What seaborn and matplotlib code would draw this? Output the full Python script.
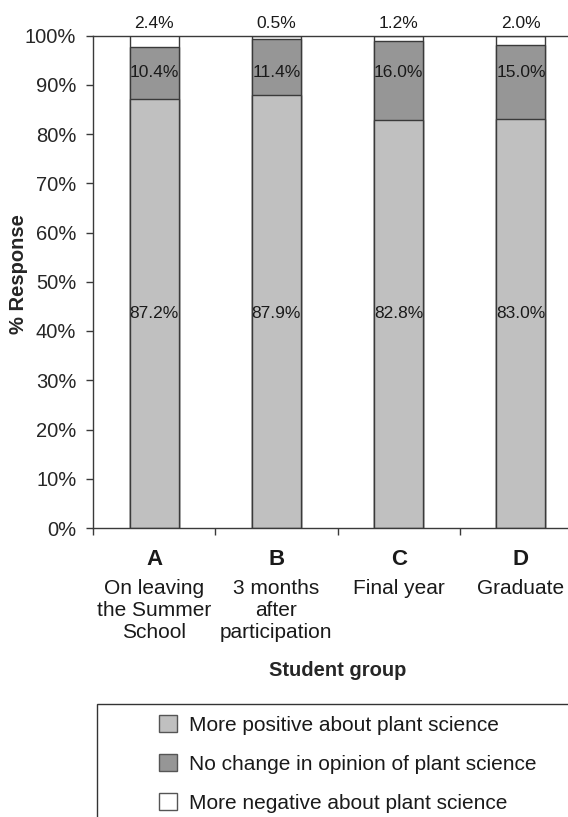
import pandas as pd
import matplotlib
matplotlib.use("Agg")
import matplotlib.pyplot as plt
from matplotlib.patches import Patch, Rectangle
import seaborn as sns

# values
groups = ["A", "B", "C", "D"]
descriptions = ["On leaving\nthe Summer\nSchool", "3 months\nafter\nparticipation",
                "Final year", "Graduate"]
more_positive = [87.2, 87.9, 82.8, 83.0]
no_change = [10.4, 11.4, 16.0, 15.0]
more_negative = [2.4, 0.5, 1.2, 2.0]
series_names = ["More positive about plant science",
                "No change in opinion of plant science",
                "More negative about plant science"]
y_ticks = [0, 10, 20, 30, 40, 50, 60, 70, 80, 90, 100]

colors = ["#c0c0c0", "#969696", "#ffffff"]
edge = "#3a3a3a"

sns.set_style("white")
plt.rcParams["font.family"] = ["Liberation Sans", "DejaVu Sans"]
plt.rcParams["text.color"] = "#1a1a1a"

df = pd.DataFrame({"group": groups, "pos": more_positive,
                   "nochg": no_change, "neg": more_negative})
df["top"] = df["pos"] + df["nochg"] + df["neg"]
df["mid"] = df["pos"] + df["nochg"]

fig = plt.figure(figsize=(5.68, 8.17), dpi=100)
ax = fig.add_axes([93 / 568, 1 - 528 / 817, 489 / 568, 492.5 / 817])

# stacked bars drawn as overlapping cumulative bars
for col, c in [("top", colors[2]), ("mid", colors[1]), ("pos", colors[0])]:
    sns.barplot(data=df, x="group", y=col, color=c, saturation=1, width=0.4,
                edgecolor=edge, linewidth=1.0, errorbar=None, ax=ax)

ax.set_ylim(0, 100)
ax.set_xlim(-0.5, len(groups) - 0.5)
ax.set_yticks(y_ticks)
ax.set_yticklabels([f"{t}%" for t in y_ticks], fontsize=14.5)
ax.set_xticks([i - 0.5 for i in range(len(groups) + 1)])
ax.set_xticklabels([])
ax.tick_params(axis="both", direction="out", length=5, width=1, color=edge)
ax.tick_params(axis="y", pad=7, left=True)
ax.tick_params(axis="x", bottom=True)
for s in ["left", "bottom", "top"]:
    ax.spines[s].set_color(edge)
    ax.spines[s].set_linewidth(1.0)
ax.spines["right"].set_visible(False)

# data labels
for i in range(len(groups)):
    ax.text(i, 43.6, f"{more_positive[i]:.1f}%", ha="center", va="center", fontsize=12.5)
    ax.text(i, 92.4, f"{no_change[i]:.1f}%", ha="center", va="center", fontsize=12.5)
    ax.text(i, 102.5, f"{more_negative[i]:.1f}%", ha="center", va="center",
            fontsize=12.5, clip_on=False)
    ax.annotate(groups[i], xy=(i, 0), xycoords=("data", "axes fraction"),
                xytext=(0, -22.5), textcoords="offset points", ha="center",
                va="center", fontsize=16, fontweight="bold", annotation_clip=False)
    ax.annotate(descriptions[i], xy=(i, 0), xycoords=("data", "axes fraction"),
                xytext=(0, -36.5), textcoords="offset points", ha="center",
                va="top", fontsize=15, linespacing=1.22, annotation_clip=False)

ax.set_xlabel("Student group", fontsize=14.5, fontweight="bold")
ax.xaxis.set_label_coords(0.5, -(670 - 528) / 492.5)
ax.xaxis.label.set_va("center")
ax.set_ylabel("% Response", fontsize=14.5, fontweight="bold")
ax.yaxis.set_label_coords((19 - 93) / 489, 0.516)
ax.yaxis.label.set_va("center")

# legend with a frame that runs off the figure edge
handles = [Patch(facecolor=c, edgecolor="#555555", linewidth=1.0) for c in colors]
fig.legend(handles, series_names, loc="upper left", frameon=False,
           bbox_to_anchor=(159 / 568, 1 - 715 / 817), borderpad=0, borderaxespad=0,
           fontsize=15, handlelength=0.88, handleheight=0.88, handletextpad=0.55,
           labelspacing=0.93)
fig.add_artist(Rectangle((96.5 / 568, -0.1), 1.0, 1 - 704 / 817 + 0.1,
                         transform=fig.transFigure, fill=False,
                         edgecolor="#333333", linewidth=1.0))

fig.savefig("out.png", dpi=100)
